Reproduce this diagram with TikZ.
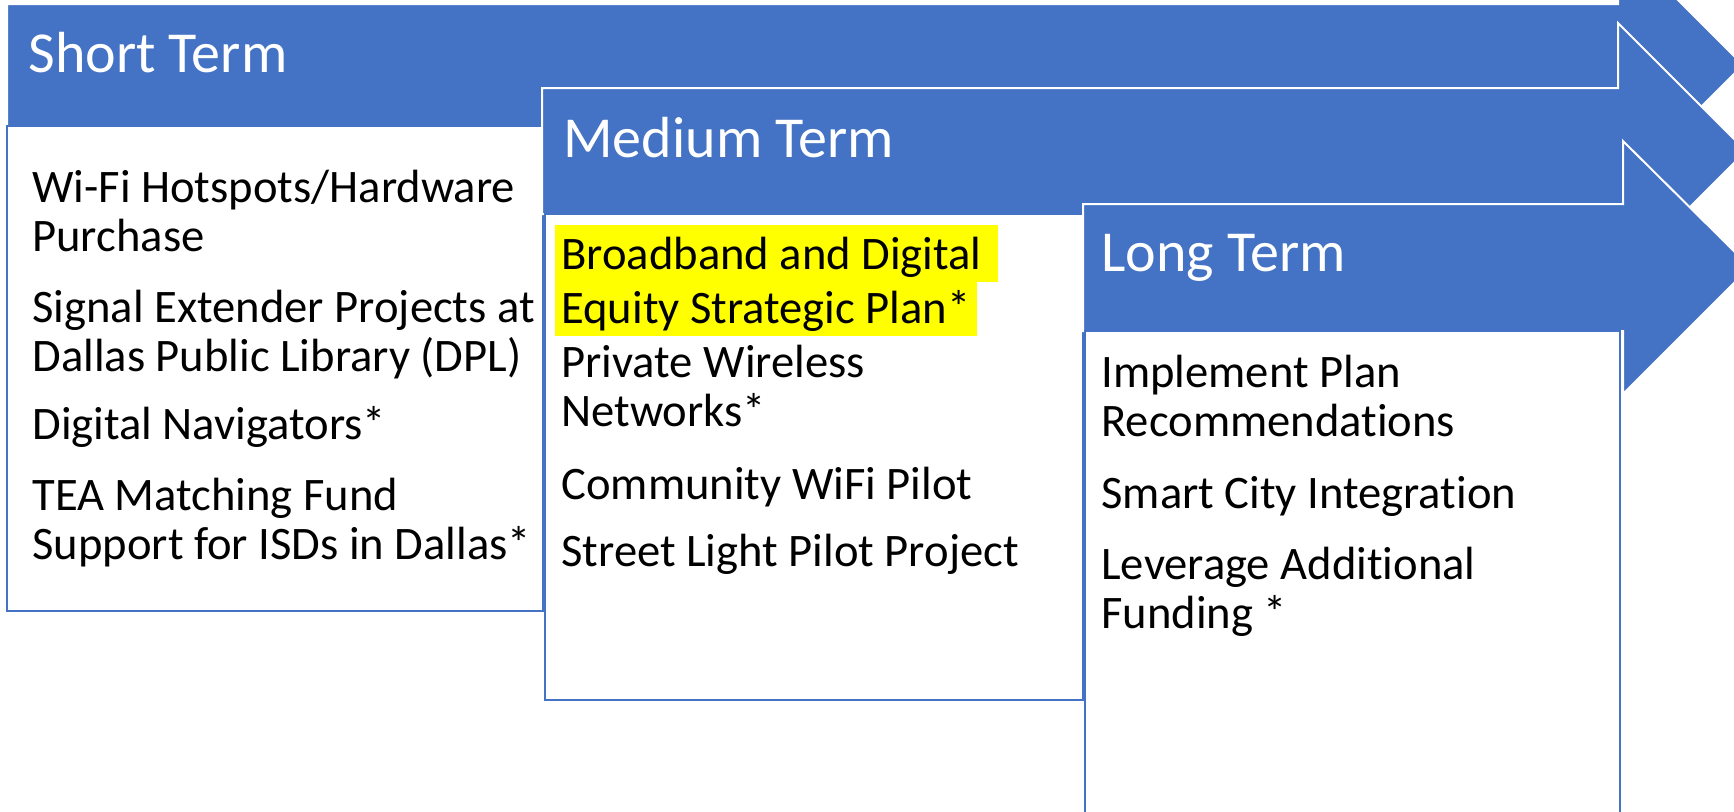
\documentclass[tikz,border=0pt]{standalone}
\usepackage{fontspec}
\setmainfont{Carlito}[Ligatures=NoCommon]
\definecolor{termblue}{HTML}{4472C4}
\definecolor{marker}{HTML}{FFFF00}

\begin{document}
\begin{tikzpicture}[x=0.5pt,y=-0.5pt,
  arrowbody/.style={fill=termblue,draw=white,line width=1pt},
  itembox/.style={fill=white,draw=termblue,line width=1.1pt},
  head/.style={text=white,font=\fontsize{29}{35}\selectfont,anchor=base west,inner sep=0pt},
  item/.style={font=\fontsize{23.3}{24.3}\selectfont,anchor=base west,inner sep=0pt,align=left},
  marked/.style={item,fill=marker,inner xsep=3pt,text height=22pt,text depth=6.5pt}]
\useasboundingbox (0,0) rectangle (1734,811);
\clip (0,0) rectangle (1734,811);

% short term
\path[arrowbody] (7,4) -- (1618,4) -- (1618,-60) -- (1743,65) -- (1618,190) -- (1618,126) -- (7,126) -- cycle;
\path[itembox] (7,126) rectangle (543,611);

% medium term
\path[arrowbody] (542,88) -- (1618,88) -- (1618,23) -- (1746,151) -- (1618,279) -- (1618,214) -- (542,214) -- cycle;
\path[itembox] (545,214) rectangle (1083,700);

% long term
\path[arrowbody] (1083,204) -- (1623,204) -- (1623,141) -- (1750,267) -- (1623,394) -- (1623,331) -- (1083,331) -- cycle;
\path[itembox] (1085,331) rectangle (1620,840);

% two-line items sit on the baseline of their last line
\node[head] (short) at (28,72) {Short Term};
\node[item] (s1) at (32,251) {Wi-Fi Hotspots/Hardware\\Purchase};
\node[item] (s2) at (32,371) {Signal Extender Projects at\\Dallas Public Library (DPL)};
\node[item] (s3) at (32,439) {Digital Navigators*};
\node[item] (s4) at (32,559) {TEA Matching Fund\\Support for ISDs in Dallas*};

\node[head] (medium) at (563,157) {Medium Term};
\node[marked] (m1a) at (555,269) {Broadband and Digital\ };
\node[marked] (m1b) at (555,323) {Equity Strategic Plan*};
\node[item] (m2) at (561,426) {Private Wireless\\Networks*};
\node[item] (m3) at (561,499) {Community WiFi Pilot};
\node[item] (m4) at (561,566) {Street Light Pilot Project};

\node[head] (long) at (1101,271) {Long Term};
\node[item] (l1) at (1101,436) {Implement Plan\\Recommendations};
\node[item] (l2) at (1101,508) {Smart City Integration};
\node[item] (l3) at (1101,628) {Leverage Additional\\Funding *};
\end{tikzpicture}
\end{document}
